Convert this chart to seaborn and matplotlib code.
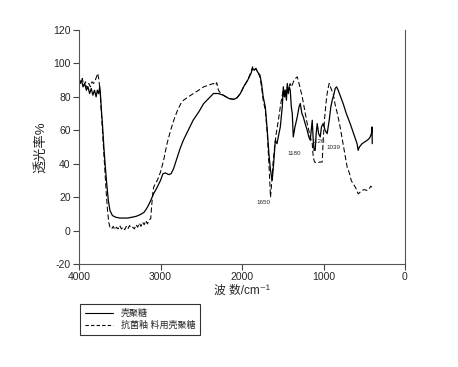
import matplotlib
matplotlib.use('Agg')
import matplotlib.pyplot as plt
from matplotlib.lines import Line2D
import seaborn as sns

# 壳聚糖 (solid line)
wn_a = [4000, 3970, 3950, 3930, 3910, 3890, 3870, 3850, 3830, 3810, 3790, 3775, 3760, 3745,
        3735, 3725, 3710, 3695, 3680, 3660, 3640, 3620, 3590, 3550, 3500, 3450, 3400, 3350,
        3300, 3250, 3200, 3160, 3120, 3085, 3040, 3000, 2970, 2940, 2900, 2870, 2840, 2800,
        2760, 2720, 2660, 2600, 2530, 2470, 2410, 2350, 2290, 2230, 2160, 2100, 2060, 2020,
        1980, 1930, 1890, 1870, 1850, 1830, 1810, 1780, 1760, 1740, 1714, 1690, 1670, 1650,
        1630, 1615, 1600, 1591, 1570, 1555, 1530, 1506, 1493, 1480, 1470, 1455, 1444, 1432,
        1420, 1408, 1395, 1383, 1371, 1350, 1322, 1300, 1285, 1265, 1248, 1225, 1200, 1180,
        1163, 1150, 1138, 1126, 1115, 1102, 1090, 1077, 1060, 1040, 1025, 1004, 980, 955,
        930, 910, 893, 870, 857, 840, 820, 790, 759, 720, 673, 630, 588, 575, 560, 526, 495,
        465, 440, 428, 412, 404, 402]
tr_a = [88, 90, 86, 88, 84, 86, 82, 85, 81, 84, 80, 84, 82, 86,
        80, 72, 62, 50, 40, 28, 18, 12, 9, 8, 7.5, 7.5, 7.5, 8,
        8.5, 9.5, 11, 14, 18, 22, 26, 30, 34, 34.5, 33.5, 34, 37, 43,
        49, 54, 60, 66, 71, 76, 79, 82, 82, 81, 79, 78.5, 79.5, 82,
        86, 90, 94, 97, 96, 97, 95, 93, 88, 80, 74, 60, 46, 36,
        30, 38, 48, 54, 52, 56, 62, 74, 86, 80, 84, 78, 88, 82,
        86, 84, 74, 70, 56, 62, 68, 74, 76, 70, 68, 64, 60, 56,
        54, 60, 66, 54, 48, 48, 58, 64, 58, 56, 62, 64, 60, 58,
        66, 74, 78, 82, 85, 86, 84, 80, 76, 70, 64, 58, 52, 48, 50, 52, 53,
        54, 55, 56, 58, 62, 52]

# 抗菌釉料用壳聚糖 (dashed line)
wn_b = [4000, 3980, 3960, 3940, 3920, 3900, 3880, 3860, 3840, 3820, 3800, 3785, 3770, 3755,
        3740, 3725, 3710, 3695, 3680, 3665, 3650, 3635, 3620, 3600, 3580, 3560, 3540, 3520,
        3500, 3480, 3460, 3440, 3420, 3400, 3380, 3360, 3340, 3320, 3300, 3280, 3260, 3240,
        3220, 3200, 3180, 3160, 3140, 3120, 3110, 3095, 3084, 3040, 3000, 2962, 2920, 2876,
        2830, 2791, 2750, 2717, 2660, 2595, 2530, 2470, 2410, 2350, 2325, 2310, 2290, 2260,
        2230, 2160, 2100, 2060, 2020, 1980, 1930, 1890, 1870, 1850, 1830, 1810, 1780, 1760,
        1740, 1714, 1690, 1670, 1655, 1650, 1640, 1620, 1600, 1580, 1560, 1530, 1510, 1493,
        1470, 1450, 1430, 1410, 1390, 1370, 1345, 1322, 1300, 1280, 1261, 1230, 1200, 1180,
        1163, 1150, 1138, 1126, 1110, 1077, 1045, 1016, 1004, 985, 970, 955, 940, 930, 915,
        900, 881, 860, 830, 796, 760, 730, 710, 680, 660, 636, 610, 590, 575, 560, 551, 530,
        500, 465, 440, 420, 404]
tr_b = [90, 88, 91, 87, 89, 85, 88, 86, 89, 88, 90, 92, 94, 90,
        82, 70, 58, 46, 34, 22, 12, 5, 2, 1, 2.5, 0.5, 2, 1,
        3, 1, 2, 0.5, 2.5, 1, 3, 1.5, 2, 1, 3.5, 2, 4.5, 2.5,
        5, 3.5, 6, 4, 6.5, 7, 14, 22, 26, 30, 35, 42, 52, 60,
        67, 72, 76, 78, 80, 82, 84, 86, 87, 88, 87, 88.5, 84, 82,
        81, 79, 78.5, 79.5, 82, 86, 90, 95, 98, 96, 97, 95, 92, 86,
        78, 72, 58, 40, 24, 20, 26, 40, 50, 58, 64, 74, 80, 84,
        80, 86, 84, 88, 86, 89, 91, 92, 88, 84, 80, 72, 64, 60,
        56, 54, 52, 44, 41, 40.5, 41, 41, 54, 68, 76, 82, 86, 88, 86,
        84, 82, 76, 70, 62, 52, 44, 38, 34, 30, 28, 26, 24, 22, 22.5, 23, 24,
        24.5, 24, 25, 26.5, 26]

peak_labels = ['1650', '1180', '1120', '1039']
peak_pos = [(1738, 17), (1359, 46), (1065, 53), (881, 49.5)]

sns.set_style('ticks')
plt.rcParams['font.family'] = ['Liberation Sans', 'Noto Sans CJK SC', 'DejaVu Sans']
plt.rcParams['axes.unicode_minus'] = False

fig = plt.figure(figsize=(4.58, 3.67), dpi=100)
ax = fig.add_axes([79 / 458, 1 - 264 / 367, 326 / 458, 234 / 367])

sns.lineplot(x=wn_a, y=tr_a, ax=ax, color='black', lw=0.9, estimator=None, sort=False)
sns.lineplot(x=wn_b, y=tr_b, ax=ax, color='black', lw=0.75, estimator=None, sort=False,
             linestyle=(0, (5, 2.5)))

ax.set_xlim(4000, 0)
ax.set_ylim(-20, 120)
ax.set_xticks([4000, 3000, 2000, 1000, 0])
ax.set_yticks(range(-20, 121, 20))
ax.tick_params(labelsize=7.5, length=4, width=0.8, color='#444444', pad=2)
for side in ['left', 'bottom', 'right']:
    ax.spines[side].set_color('#555555')
    ax.spines[side].set_linewidth(0.8)
ax.spines['top'].set_visible(False)

ax.set_xlabel('波 数/cm⁻¹', fontsize=8.5, labelpad=2)
ax.set_ylabel('透光率%', fontsize=9.5, labelpad=4)

# peak labels
ax.text(*peak_pos[0], peak_labels[0], fontsize=4.5, ha='center', va='center')
ax.annotate(peak_labels[1], xy=(1172, 54), xytext=peak_pos[1], fontsize=4.5,
            ha='center', va='center', arrowprops=dict(arrowstyle='-', lw=0.5, shrinkA=0, shrinkB=0))
ax.text(*peak_pos[2], peak_labels[2], fontsize=4.5, ha='center', va='center')
ax.text(*peak_pos[3], peak_labels[3], fontsize=4.5, ha='center', va='center')

handles = [Line2D([], [], color='black', lw=0.8),
           Line2D([], [], color='black', lw=0.8, linestyle=(0, (3, 2)))]
leg = fig.legend(handles, ['壳聚糖', '抗菌釉 料用壳聚糖'], loc='upper left',
                 bbox_to_anchor=(80 / 458, 1 - 304 / 367), fontsize=6.5, frameon=True,
                 fancybox=False, edgecolor='black', borderaxespad=0, handlelength=3.2,
                 labelspacing=0.35, borderpad=0.5)
leg.get_frame().set_linewidth(0.8)

plt.savefig('out.png', dpi=100)
